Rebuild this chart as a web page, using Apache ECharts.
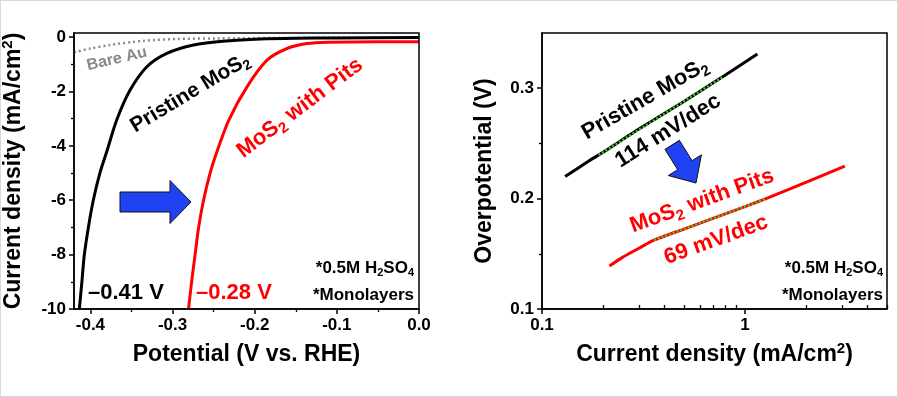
<!DOCTYPE html>
<html><head><meta charset="utf-8">
<script src="https://cdn.jsdelivr.net/npm/echarts@6/dist/echarts.min.js"></script>
<style>
html,body{margin:0;padding:0;background:#fff;}
#c{position:absolute;left:0;top:0;width:898px;height:397px;}
#frame{position:absolute;left:0;top:0;width:898px;height:397px;box-sizing:border-box;border:1px solid #d9d9d9;pointer-events:none;}
</style></head>
<body><div id="c"></div><div id="frame"></div>
<script>
// ---------- Data: polarization curves (left) ----------
const auX  = [-0.42, -0.40, -0.376, -0.336, -0.295, -0.25, -0.15, 0.0];
const auY  = [-0.56, -0.42, -0.29, -0.14, -0.07, -0.05, -0.03, -0.02];
const priX = [-0.4135, -0.4104, -0.4074, -0.4025, -0.3965, -0.3885, -0.3800, -0.368, -0.3517, -0.3313, -0.307, -0.2745, -0.234, -0.193, -0.15, -0.10, 0.0];
const priY = [-10, -9.0, -8.0, -7.0, -6.0, -5.0, -4.2, -3.05, -1.95, -1.09, -0.60, -0.29, -0.14, -0.07, -0.04, -0.03, -0.02];
const pitX = [-0.2806, -0.2768, -0.2726, -0.2683, -0.2623, -0.2543, -0.2458, -0.2315, -0.2094, -0.185, -0.1606, -0.1362, -0.11, -0.05, 0.0];
const pitY = [-10, -9.0, -8.0, -7.0, -6.0, -5.0, -4.2, -3.05, -1.83, -0.85, -0.42, -0.24, -0.19, -0.17, -0.17];

// ---------- Data: Tafel plots (right) ----------
const tafPriJ   = [0.13, 0.17, 0.2, 0.3, 0.5, 0.8, 1.15];
const tafPriEta = [0.220, 0.234, 0.242, 0.263, 0.288, 0.312, 0.331];
const tafPitJ   = [0.215, 0.25, 0.3, 0.356, 0.5, 0.7, 1.0, 1.25, 1.7, 2.3, 3.1];
const tafPitEta = [0.139, 0.147, 0.155, 0.1624, 0.1724, 0.1823, 0.1928, 0.1995, 0.2095, 0.2195, 0.2294];
const fitPriJ   = [0.19, 0.78];
const fitPriEta = [0.2395, 0.3104];
const fitPitJ   = [0.356, 1.26];
const fitPitEta = [0.1624, 0.1997];

// ---------- Ticks ----------
const lxTicks = [-0.4, -0.3, -0.2, -0.1, 0];
const lxMinor = [-0.35, -0.25, -0.15, -0.05];
const lyTicks = [-10, -8, -6, -4, -2, 0];
const lyMinor = [-9, -7, -5, -3, -1];
const rxTicks = [0.1, 1];
const rxMinor = [0.2, 0.3, 0.4, 0.5, 0.6, 0.7, 0.8, 0.9, 2, 3, 4, 5];
const ryTicks = [0.1, 0.2, 0.3];
const ryMinor = [0.15, 0.25];

const FF = "'Liberation Sans', Arial, Helvetica, sans-serif";
const zip = (a, b) => a.map((v, i) => [v, b[i]]);

const chart = echarts.init(document.getElementById('c'), null, {renderer: 'canvas'});

const lbl = {fontSize: 17, fontWeight: 'bold', color: '#000', fontFamily: FF};
const nameStyle = () => ({
  fontSize: 23, fontWeight: 'bold', color: '#000', fontFamily: FF,
  rich: {
    a: {fontSize: 23, fontWeight: 'bold', color: '#000', fontFamily: FF, lineHeight: 28, verticalAlign: 'middle'},
    p: {fontSize: 15, fontWeight: 'bold', color: '#000', fontFamily: FF, lineHeight: 22, verticalAlign: 'top'}
  }
});
const axLine = {show: true, onZero: false, lineStyle: {color: '#000', width: 1.5}};

function majorAxis(type, grid, min, max, ticks, fmt, pos, extra) {
  return Object.assign({
    type: type, gridIndex: grid, min: min, max: max, position: pos,
    axisLine: axLine,
    axisTick: {show: true, customValues: ticks, length: 5, lineStyle: {color: '#000', width: 1.5}},
    axisLabel: Object.assign({customValues: ticks, formatter: fmt, margin: 8}, lbl),
    splitLine: {show: false}, minorTick: {show: false}
  }, extra || {});
}
function minorAxis(type, grid, min, max, ticks, pos, inside) {
  return {
    type: type, gridIndex: grid, min: min, max: max, position: pos,
    axisLine: {show: false, onZero: false},
    axisTick: {show: true, customValues: ticks, length: inside ? 4 : 3, inside: !!inside, lineStyle: {color: '#000', width: 1.3}},
    axisLabel: {show: false}, splitLine: {show: false}
  };
}

const xAxis = [
  majorAxis('value', 0, -0.42, 0, lxTicks, v => v.toFixed(1), 'bottom',
    {name: 'Potential (V vs. RHE)', nameLocation: 'middle', nameGap: 34, nameTextStyle: nameStyle()}),
  minorAxis('value', 0, -0.42, 0, lxMinor, 'bottom', false),
  majorAxis('log', 1, 0.1, 5, rxTicks, v => (v < 1 ? v.toFixed(1) : v.toFixed(0)), 'bottom',
    {logBase: 10, name: '{a|Current density (mA/cm}{p|2}{a|)}', nameLocation: 'middle', nameGap: 32, nameTextStyle: nameStyle()}),
  minorAxis('log', 1, 0.1, 5, rxMinor, 'bottom', true)
];
xAxis[3].logBase = 10;

const yAxis = [
  majorAxis('value', 0, -10, 0.15, lyTicks, v => String(v), 'left',
    {name: '{a|Current density (mA/cm}{p|2}{a|)}', nameLocation: 'middle', nameGap: 46, nameRotate: 90, nameTextStyle: nameStyle()}),
  minorAxis('value', 0, -10, 0.15, lyMinor, 'left', false),
  majorAxis('value', 1, 0.1, 0.35, ryTicks, v => v.toFixed(1), 'left',
    {name: 'Overpotential (V)', nameLocation: 'middle', nameGap: 46, nameRotate: 90, nameTextStyle: nameStyle()}),
  minorAxis('value', 1, 0.1, 0.35, ryMinor, 'left', false)
];

const line = (name, xi, yi, data, color, width, type, smooth) => ({
  name: name, type: 'line', xAxisIndex: xi, yAxisIndex: yi, data: data,
  symbol: 'none', smooth: smooth, silent: true,
  lineStyle: {color: color, width: width, type: type}, z: 3
});

const series = [
  line('Bare Au', 0, 0, zip(auX, auY), '#8c8c8c', 2.5, [2, 3], 0.3),
  line('Pristine MoS2', 0, 0, zip(priX, priY), '#000', 3, 'solid', 0.3),
  line('MoS2 with Pits', 0, 0, zip(pitX, pitY), '#ff0000', 3, 'solid', 0.3),
  line('Pristine MoS2 Tafel', 2, 2, zip(tafPriJ, tafPriEta), '#000', 3, 'solid', 0.2),
  line('MoS2 with Pits Tafel', 2, 2, zip(tafPitJ, tafPitEta), '#ff0000', 3, 'solid', 0.2),
  Object.assign(line('fit pristine', 2, 2, zip(fitPriJ, fitPriEta), '#33e01a', 2, [2, 2], false), {z: 5}),
  Object.assign(line('fit pits', 2, 2, zip(fitPitJ, fitPitEta), '#33e01a', 2, [2, 2], false), {z: 5}),
  // empty series so the minor-tick axes are bound to each grid
  {type: 'line', xAxisIndex: 1, yAxisIndex: 1, data: [], silent: true},
  {type: 'line', xAxisIndex: 3, yAxisIndex: 3, data: [], silent: true}
];

// ---------- Annotations ----------
const deg = d => d * Math.PI / 180;
function rt(fs, color) {
  return {
    a: {fontSize: fs, fontWeight: 'bold', fontFamily: FF, fill: color, lineHeight: Math.round(fs * 1.25), verticalAlign: 'middle'},
    s: {fontSize: Math.round(fs * 0.66), fontWeight: 'bold', fontFamily: FF, fill: color, lineHeight: Math.round(fs * 0.66), verticalAlign: 'bottom'}
  };
}
function txt(x, y, text, fs, color, rotDeg, align) {
  return {
    type: 'text', x: x, y: y, rotation: deg(rotDeg || 0), z: 100,
    style: {text: text, rich: rt(fs, color), fill: color, align: align || 'center', verticalAlign: 'middle',
            fontSize: fs, fontWeight: 'bold', fontFamily: FF}
  };
}
function arrow(tipX, tipY, angDeg, len, bodyH, headL, headH) {
  const a = deg(angDeg), c = Math.cos(a), s = Math.sin(a);
  const local = [[0, 0], [-headL, -headH / 2], [-headL, -bodyH / 2], [-len, -bodyH / 2],
                 [-len, bodyH / 2], [-headL, bodyH / 2], [-headL, headH / 2]];
  return {
    type: 'polygon', z: 90,
    shape: {points: local.map(p => [tipX + p[0] * c - p[1] * s, tipY + p[0] * s + p[1] * c])},
    style: {fill: '#1f43f2', stroke: '#111', lineWidth: 1}
  };
}
const frameStyle = {fill: 'transparent', stroke: '#000', lineWidth: 1.5};

const graphic = [
  {type: 'text', x: 117, y: 59, rotation: deg(13), z: 100,
   style: {text: 'Bare Au', fill: '#888888', fontSize: 16, fontWeight: 'bold', fontFamily: FF, align: 'center', verticalAlign: 'middle'}},
  txt(190, 93, '{a|Pristine MoS}{s|2}', 21, '#000', 31),
  txt(300, 108, '{a|MoS}{s|2}{a| with Pits}', 22, '#ff0000', 37),
  txt(88, 293, '{a|\u20130.41 V}', 22, '#000', 0, 'left'),
  txt(196, 293, '{a|\u20130.28 V}', 22, '#ff0000', 0, 'left'),
  txt(414, 268, '{a|*0.5M H}{s|2}{a|SO}{s|4}', 17, '#000', 0, 'right'),
  txt(414, 295, '{a|*Monolayers}', 17, '#000', 0, 'right'),
  arrow(191, 202, 0, 71, 20, 21, 43),

  txt(645, 99, '{a|Pristine MoS}{s|2}', 22, '#000', 30),
  txt(668, 131, '{a|114 mV/dec}', 22, '#000', 32),
  txt(702, 201, '{a|MoS}{s|2}{a| with Pits}', 22, '#ff0000', 20),
  txt(716, 240, '{a|69 mV/dec}', 22, '#ff0000', 20),
  txt(883, 268, '{a|*0.5M H}{s|2}{a|SO}{s|4}', 17, '#000', 0, 'right'),
  txt(883, 295, '{a|*Monolayers}', 17, '#000', 0, 'right'),
  arrow(696, 183, 58, 45, 17, 21, 39),
  {id: 'frame0', type: 'rect', z: 50, silent: true, shape: {x: 74, y: 33, width: 345, height: 276}, style: frameStyle},
  {id: 'frame1', type: 'rect', z: 50, silent: true, shape: {x: 542, y: 33, width: 345, height: 276}, style: frameStyle}
];

chart.setOption({
  animation: false,
  backgroundColor: '#fff',
  grid: [
    {left: 74, top: 33, width: 345, height: 276, show: false, containLabel: false, outerBoundsMode: 'none'},
    {left: 542, top: 33, width: 345, height: 276, show: false, containLabel: false, outerBoundsMode: 'none'}
  ],
  xAxis: xAxis,
  yAxis: yAxis,
  series: series,
  graphic: graphic
});

// plot frames follow the axes' own extents
try {
  const frameRect = (xi, yi, x0, x1, y0, y1) => {
    const a = chart.convertToPixel({xAxisIndex: xi, yAxisIndex: yi}, [x0, y1]);
    const b = chart.convertToPixel({xAxisIndex: xi, yAxisIndex: yi}, [x1, y0]);
    return {x: a[0], y: a[1], width: b[0] - a[0], height: b[1] - a[1]};
  };
  chart.setOption({graphic: [
    {id: 'frame0', shape: frameRect(0, 0, -0.42, 0, -10, 0.15)},
    {id: 'frame1', shape: frameRect(2, 2, 0.1, 5, 0.1, 0.35)}
  ]});
} catch (e) { /* keep default frame */ }
</script>
</body></html>
